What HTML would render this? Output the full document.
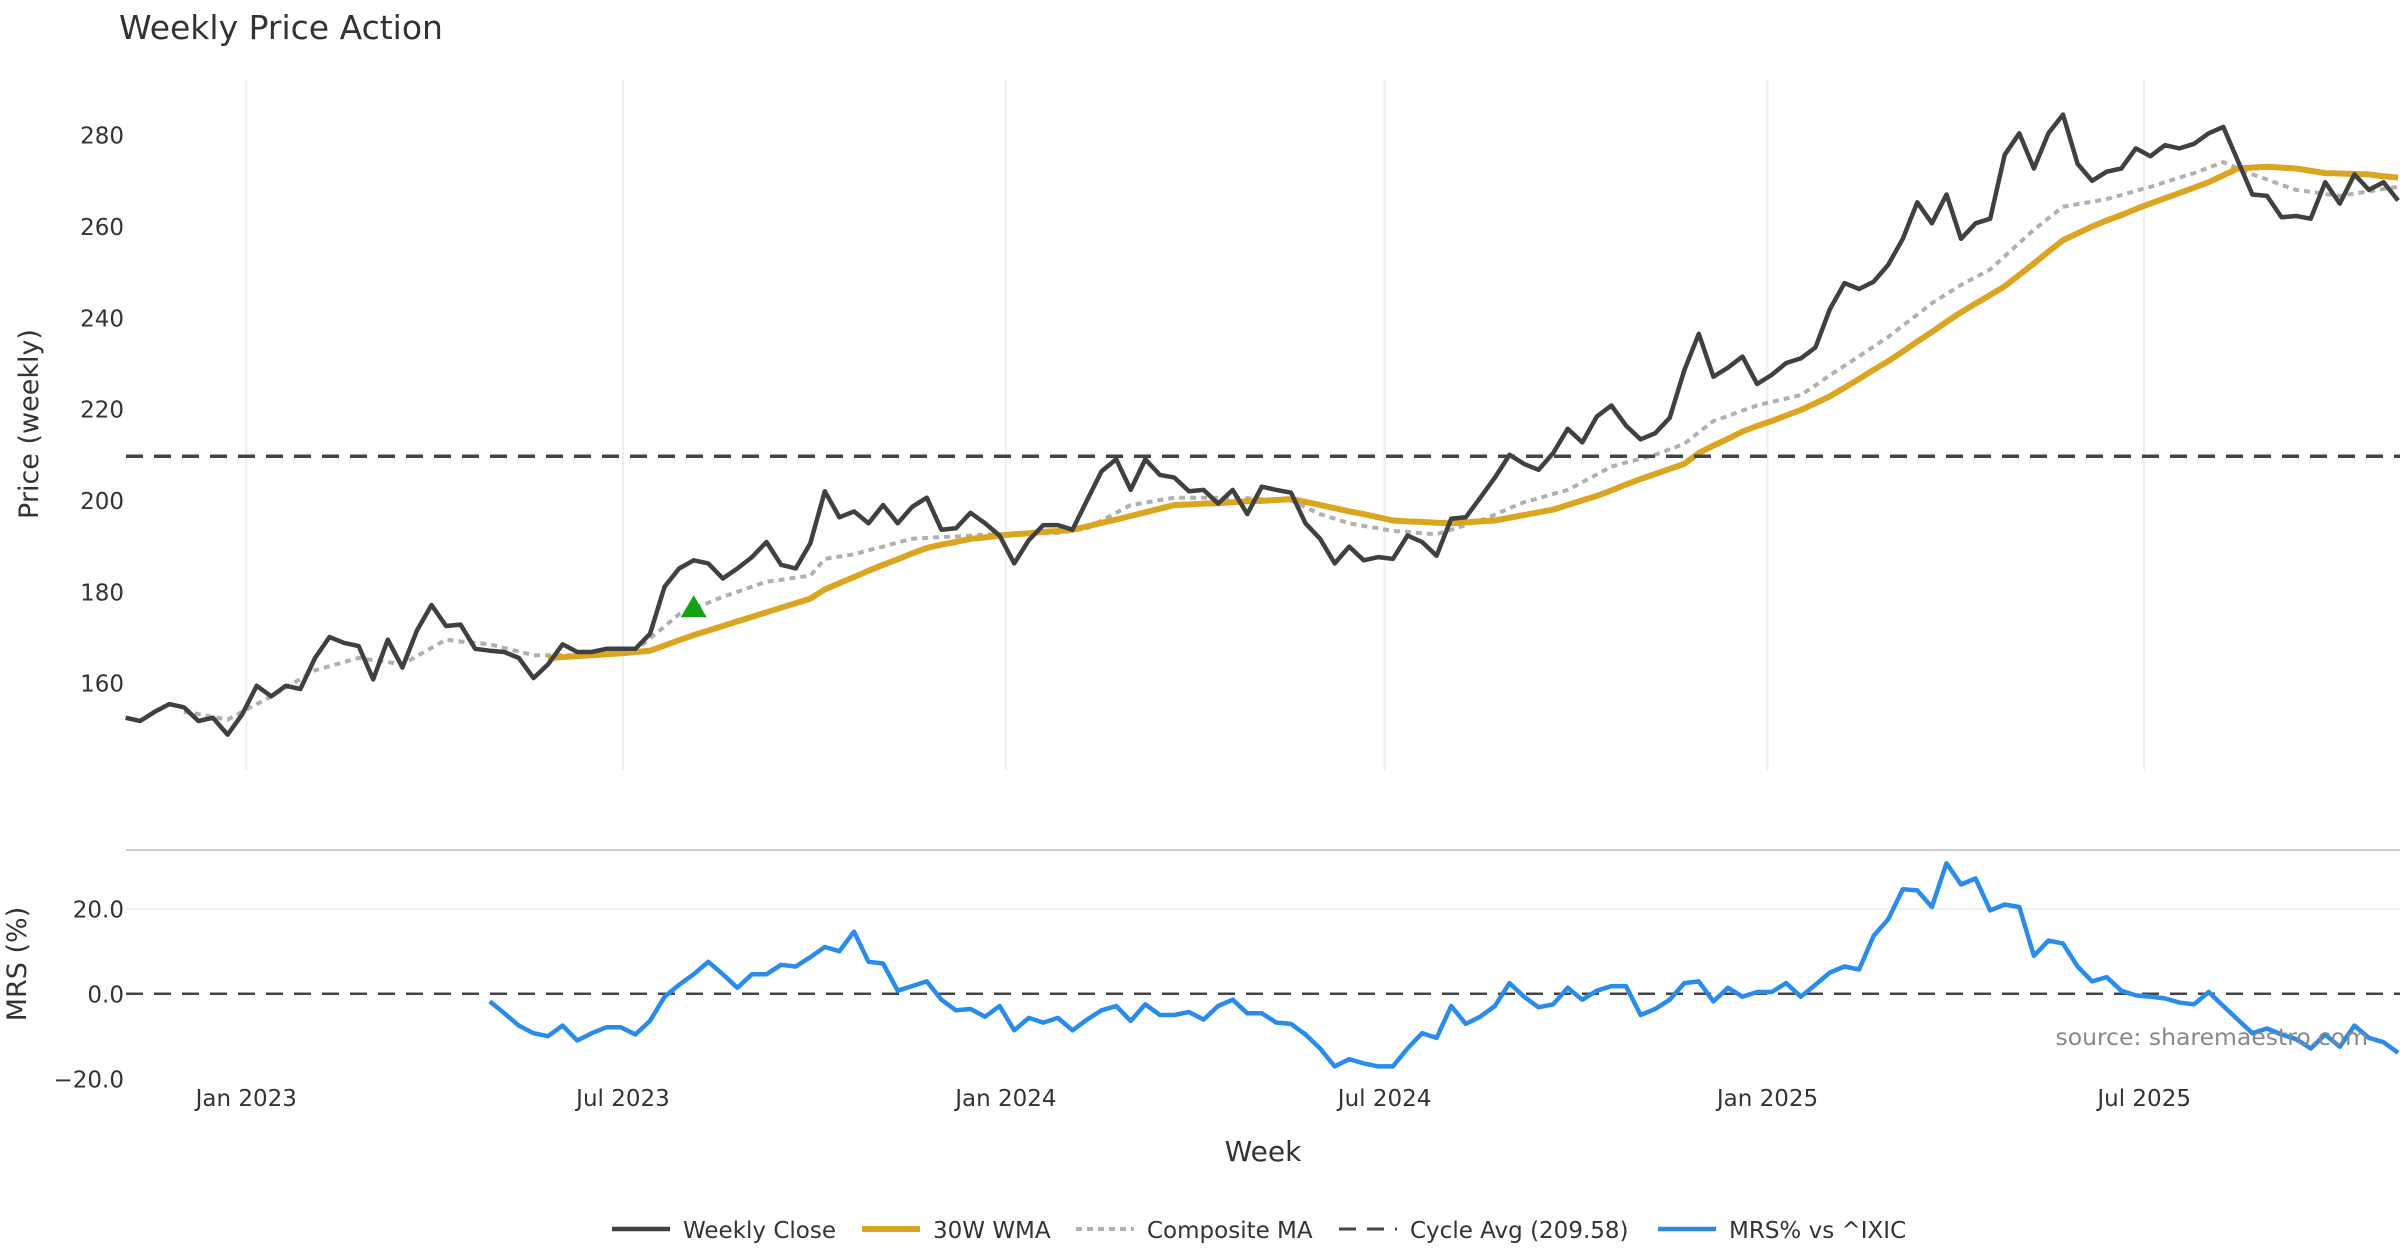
<!DOCTYPE html>
<html><head><meta charset="utf-8">
<style>
html,body{margin:0;padding:0;background:#fff;}
svg{display:block;font-family:"DejaVu Sans","Liberation Sans",sans-serif;}
</style></head>
<body>
<svg id="chart" width="2400" height="1260" viewBox="0 0 2400 1260" xmlns="http://www.w3.org/2000/svg">
<text x="119" y="39" font-size="33" fill="#333">Weekly Price Action</text>
<g id="grid"></g>
<g id="axes"></g>
<g id="series"></g>
<text transform="translate(38,424) rotate(-90)" text-anchor="middle" font-size="27" fill="#333">Price (weekly)</text>
<text transform="translate(26,964) rotate(-90)" text-anchor="middle" font-size="27" fill="#333">MRS (%)</text>
<text x="1263" y="1161" text-anchor="middle" font-size="28" fill="#333">Week</text>
<text x="2368" y="1045" text-anchor="end" font-size="23.5" fill="#888">source: sharemaestro.com</text>
<g id="legend"></g>
</svg>
<script>
const closeValues=[152.3,151.6,153.6,155.3,154.6,151.6,152.3,148.6,153,159.3,157,159.3,158.6,165.4,170,168.7,168,160.7,169.4,163.3,171.4,177,172.4,172.7,167.4,167,166.7,165.4,161,164,168.4,166.7,166.7,167.4,167.4,167.4,170.7,181,185,186.8,186.1,182.8,185,187.5,190.8,185.8,185,190.5,201.9,196.2,197.5,194.9,198.9,194.9,198.5,200.5,193.5,193.8,197.2,194.9,192.2,186.1,191.2,194.5,194.5,193.5,199.9,206.3,208.9,202.2,208.9,205.5,204.9,201.9,202.2,199.2,202.2,196.9,202.9,202.2,201.6,194.9,191.5,186.1,189.8,186.8,187.5,187.1,192.2,190.8,187.8,195.9,196.2,200.5,204.9,209.9,207.9,206.6,210.3,215.6,212.6,218.3,220.7,216.3,213.3,214.6,218,228.4,236.4,227,229,231.4,225.4,227.4,230,231,233.4,241.8,247.5,246.2,247.8,251.5,257.2,265.2,260.6,266.9,257.2,260.6,261.6,275.6,280.3,272.6,280.3,284.4,273.6,269.9,271.9,272.6,277,275.3,277.7,277,278,280.3,281.7,274.3,266.9,266.6,261.9,262.2,261.6,269.6,264.9,271.3,267.9,269.6,265.6];
const wmaStart=29;
const wmaValues=[165.4,165.6,165.8,166,166.2,166.4,166.7,167,168.1,169.3,170.4,171.4,172.4,173.4,174.4,175.4,176.4,177.4,178.4,180.4,181.8,183.1,184.5,185.8,187,188.3,189.5,190.2,190.8,191.5,191.8,192.2,192.5,192.7,193,193.2,193.5,194.2,195,195.7,196.5,197.3,198.1,198.9,199,199.2,199.3,199.5,199.7,199.8,200,200.2,199.6,198.9,198.2,197.5,196.9,196.2,195.5,195.3,195.2,195,194.9,195.1,195.3,195.5,196.1,196.7,197.3,197.9,198.9,199.9,200.9,202.1,203.4,204.6,205.7,206.8,207.9,210.3,211.9,213.4,215,216.2,217.3,218.5,219.7,221.2,222.7,224.6,226.5,228.5,230.4,232.5,234.7,236.8,239,241.1,243,244.9,246.8,249.3,251.8,254.4,256.9,258.4,259.9,261.2,262.4,263.7,264.9,266.1,267.2,268.4,269.6,271.1,272.6,272.8,273,272.8,272.6,272.1,271.6,271.5,271.4,271.3,270.9,270.6];
const compStart=4;
const compValues=[153.6,153.1,152.5,151.9,153.6,155.3,157,158.9,160.8,162.7,163.6,164.5,165.4,164.9,164.5,164,165.8,167.6,169.4,169,168.7,168.4,167.6,166.8,166,166,166,166,166.3,166.5,166.8,167,169.7,172.3,175,176.3,177.5,178.8,179.9,181,182.1,182.5,183,183.4,187.1,187.6,188.1,189,189.8,190.7,191.5,191.7,191.9,192,192.2,192.4,192.5,192.6,192.7,192.7,192.8,193.3,193.8,195.5,197.2,198.9,199.4,200,200.5,200.5,200.5,200.5,200.5,200.4,200.2,200.1,199.9,198.4,196.9,195.9,194.9,194.3,193.8,193.2,193,192.7,192.5,193.5,194.5,195.5,196.8,198.2,199.5,200.4,201.3,202.2,203.9,205.6,207.3,208.2,209,209.9,211.1,212.3,214.8,217.3,218.4,219.6,220.7,221.5,222.2,223,225.1,227.3,229.4,231.5,233.6,235.7,238.2,240.6,243.1,245.1,247.1,248.8,250.5,253.4,256.3,259.2,261.7,264.2,264.8,265.3,265.9,266.8,267.7,268.6,269.6,270.6,271.6,272.8,274,272.6,271.3,270.2,269,267.9,267.5,267,266.6,267.1,267.6,268.1,268.6];
const mrsStart=25;
const mrsValues=[-1.8,-4.6,-7.5,-9.3,-10,-7.5,-11,-9.3,-7.9,-7.9,-9.6,-6.4,-0.7,2.1,4.6,7.5,4.6,1.4,4.6,4.6,6.8,6.4,8.6,11,10,14.6,7.5,7.1,0.7,1.8,2.9,-1.4,-3.9,-3.6,-5.4,-2.9,-8.6,-5.7,-6.8,-5.7,-8.6,-6.1,-3.9,-2.9,-6.4,-2.5,-5,-5,-4.3,-6.1,-2.9,-1.4,-4.6,-4.6,-6.8,-7.1,-9.6,-12.9,-17.1,-15.4,-16.4,-17.1,-17.1,-12.9,-9.3,-10.4,-2.9,-7.1,-5.4,-2.9,2.5,-0.7,-3.2,-2.5,1.4,-1.4,0.7,1.8,1.8,-5,-3.6,-1.4,2.5,2.9,-1.8,1.4,-0.7,0.4,0.4,2.5,-0.7,2.1,5,6.4,5.7,13.6,17.5,24.6,24.3,20.4,30.7,25.7,27.1,19.6,21,20.4,8.9,12.5,11.8,6.4,2.9,3.9,0.7,-0.4,-0.7,-1.1,-2.1,-2.5,0.4,-2.9,-6.1,-9.3,-8.2,-9.6,-10.7,-12.9,-9.6,-12.5,-7.5,-10.4,-11.4,-13.9];
const cycleAvg=209.58;
const signalIndex=39;
const priceTicks=[160,180,200,220,240,260,280];
const mrsTicks=[-20,0,20];
const mrsTickLabels=["\u221220.0","0.0","20.0"];
const dateTicks=["2023-01-01","2023-07-01","2024-01-01","2024-07-01","2025-01-01","2025-07-01"];
const dateTickLabels=["Jan 2023","Jul 2023","Jan 2024","Jul 2024","Jan 2025","Jul 2025"];
const startDate="2022-11-04";

const NS="http://www.w3.org/2000/svg";
const DAY=86400000;
const t0=Date.parse(startDate);
const xDate=t=>246.3+((t-Date.parse("2023-01-01"))/DAY)*2.081;
const xIdx=i=>xDate(t0+i*7*DAY);
const yP=v=>134.7+(280-v)*4.566;
const yM=v=>993.7-v*4.25;
function el(tag,attrs,parent){const e=document.createElementNS(NS,tag);for(const k in attrs)e.setAttribute(k,attrs[k]);parent.appendChild(e);return e;}
const grid=document.getElementById('grid'),axes=document.getElementById('axes'),series=document.getElementById('series'),legend=document.getElementById('legend');

dateTicks.forEach((d,k)=>{
  const x=xDate(Date.parse(d));
  const g=el('line',{x1:x,x2:x,y1:80,y2:770,stroke:'#eceef2','stroke-width':2},grid);
  
  
  const t=el('text',{x:x,y:1106,'text-anchor':'middle','font-size':23,fill:'#333'},axes);
  t.textContent=dateTickLabels[k];
  
  
});
priceTicks.forEach(v=>{
  const t=el('text',{x:124,y:yP(v)+9,'text-anchor':'end','font-size':23,fill:'#333'},axes);
  t.textContent=v;
  
  
});
mrsTicks.forEach((v,k)=>{
  const t=el('text',{x:124,y:yM(v)+9,'text-anchor':'end','font-size':23,fill:'#333'},axes);
  t.textContent=mrsTickLabels[k];
  
  
  if(v===20){const g=el('line',{x1:126,x2:2400,y1:yM(v),y2:yM(v),stroke:'#eeeeee','stroke-width':2},grid);
  
  }
});
const sep=el('line',{x1:126,x2:2400,y1:850,y2:850,stroke:'#cccccc','stroke-width':2},grid);


const zl=el('line',{x1:126,x2:2400,y1:yM(0),y2:yM(0),stroke:'#444','stroke-width':2.5,'stroke-dasharray':'17 11'},grid);



function path(vals,start,yf,attrs,name){
  let d='';vals.forEach((v,k)=>{d+=(k?'L':'M')+xIdx(start+k).toFixed(1)+','+yf(v).toFixed(1);});
  const p=el('path',Object.assign({d:d,fill:'none','stroke-linejoin':'round'},attrs),series);
  
  
}
path(compValues,compStart,yP,{stroke:'#b0b0b0','stroke-width':4,'stroke-dasharray':'6 5'},'composite-ma-line');
path(wmaValues,wmaStart,yP,{stroke:'#daa520','stroke-width':6},'wma-30w-line');
path(closeValues,0,yP,{stroke:'#404040','stroke-width':4.5},'weekly-close-line');
const cl=el('line',{x1:126,x2:2400,y1:yP(cycleAvg),y2:yP(cycleAvg),stroke:'#444','stroke-width':3.5,'stroke-dasharray':'17 11'},series);


path(mrsValues,mrsStart,yM,{stroke:'#2a8cea','stroke-width':4.5},'mrs-line');
const sx=xIdx(signalIndex),sy=yP(compValues[signalIndex-compStart]);
const tri=el('polygon',{points:`${sx-13},${sy+9} ${sx+13},${sy+9} ${sx},${sy-13}`,fill:'#16a016'},series);



const legItems=[
 {x:612,label:'Weekly Close',stroke:'#404040',w:4.5,dash:null},
 {x:862,label:'30W WMA',stroke:'#daa520',w:6,dash:null},
 {x:1076,label:'Composite MA',stroke:'#b0b0b0',w:4,dash:'6 5'},
 {x:1339,label:'Cycle Avg (209.58)',stroke:'#444',w:3,dash:'17 11'},
 {x:1658,label:'MRS% vs ^IXIC',stroke:'#2a8cea',w:4.5,dash:null}];
legItems.forEach(it=>{
  const g=el('g',{},legend);
  
  
  const a={x1:it.x,x2:it.x+58,y1:1229,y2:1229,stroke:it.stroke,'stroke-width':it.w};
  if(it.dash)a['stroke-dasharray']=it.dash;
  el('line',a,g);
  const t=el('text',{x:it.x+71,y:1238,'font-size':23,fill:'#333'},g);
  t.textContent=it.label;
});
</script>
</body></html>
